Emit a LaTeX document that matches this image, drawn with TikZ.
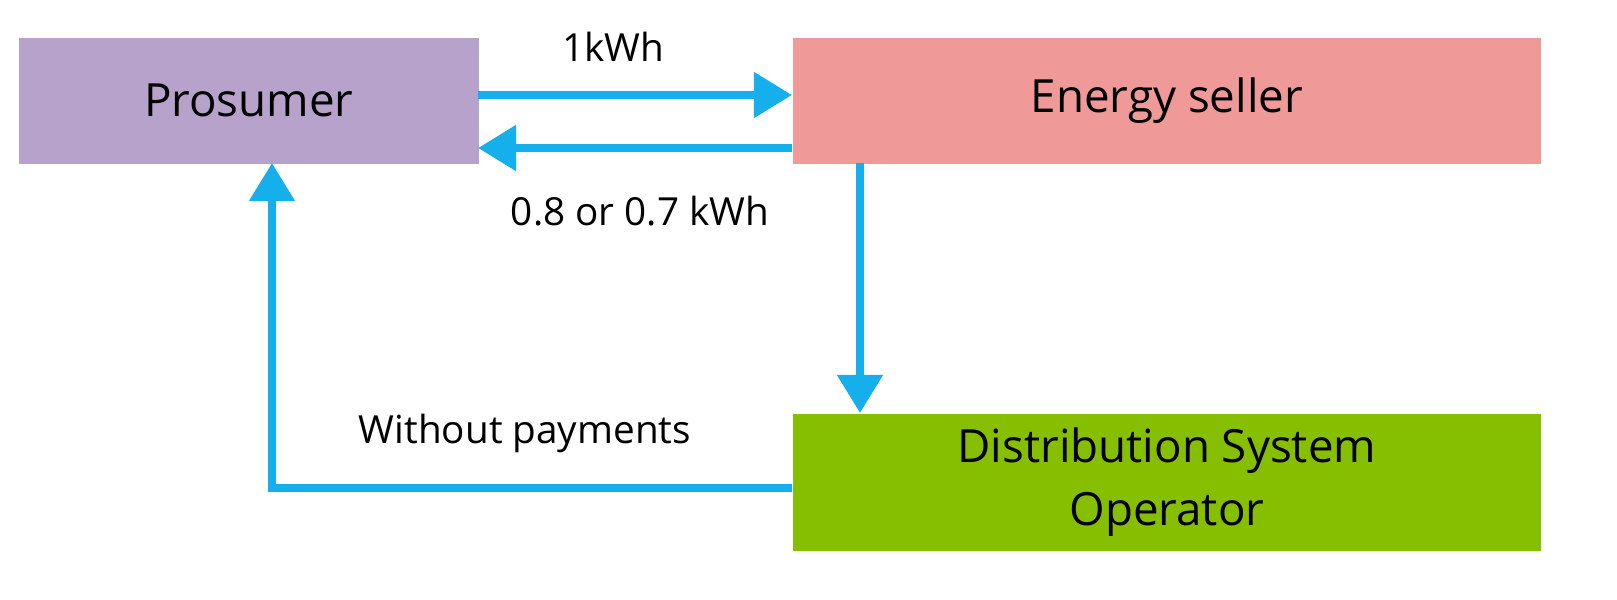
\documentclass[tikz,border=0pt]{standalone}
\usepackage{fontspec}
\setmainfont{Open Sans}
\usetikzlibrary{arrows.meta}
\definecolor{pur}{HTML}{B7A2CC}
\definecolor{pnk}{HTML}{EF9A98}
\definecolor{grn}{HTML}{86BF00}
\definecolor{arr}{HTML}{15B0EC}
\tikzset{box/.style={inner sep=0pt,anchor=north west},
flow/.style={arr,line width=0.08cm,-{Triangle[length=0.38cm,width=0.44cm]}},
lbl/.style={font=\fontsize{11}{13}\selectfont}}
\begin{document}
\begin{tikzpicture}[x=0.01cm,y=-0.01cm]
\node[box,fill=pur,minimum width=4.6cm,minimum height=1.26cm] (p) at (18,37) {};
\node[font=\fontsize{13}{15}\selectfont] at (p.center) {Prosumer};
\node[box,fill=pnk,minimum width=7.48cm,minimum height=1.26cm] (e) at (792,37) {};
\node[font=\fontsize{13}{15}\selectfont] at (e.center) {Energy seller};
\node[box,fill=grn,minimum width=7.48cm,minimum height=1.37cm] (d) at (792,413) {};
\node[font=\fontsize{13}{18}\selectfont,align=center] at (d.center) {Distribution System\\Operator};
\coordinate (a1) at (478,95); \coordinate (b1) at (792,95);
\coordinate (a2) at (792,148); \coordinate (b2) at (478,148);
\draw[flow] (a1) -- (b1);
\draw[flow] (a2) -- (b2);
\coordinate (c1) at (860,163); \coordinate (c2) at (860,413);
\draw[flow] (c1) -- (c2);
\coordinate (d1) at (792,488); \coordinate (k) at (272,488); \coordinate (p1) at (272,163);
\draw[flow] (d1) -- (k) -- (p1);
\node[lbl] (l1) at (613,47) {1kWh};
\node[lbl] (l2) at (640,211) {0.8 or 0.7 kWh};
\node[lbl] (l3) at (525,433) {Without payments};
\pgfresetboundingbox
\useasboundingbox (0,0) rectangle (1617,600);
\end{tikzpicture}
\end{document}
